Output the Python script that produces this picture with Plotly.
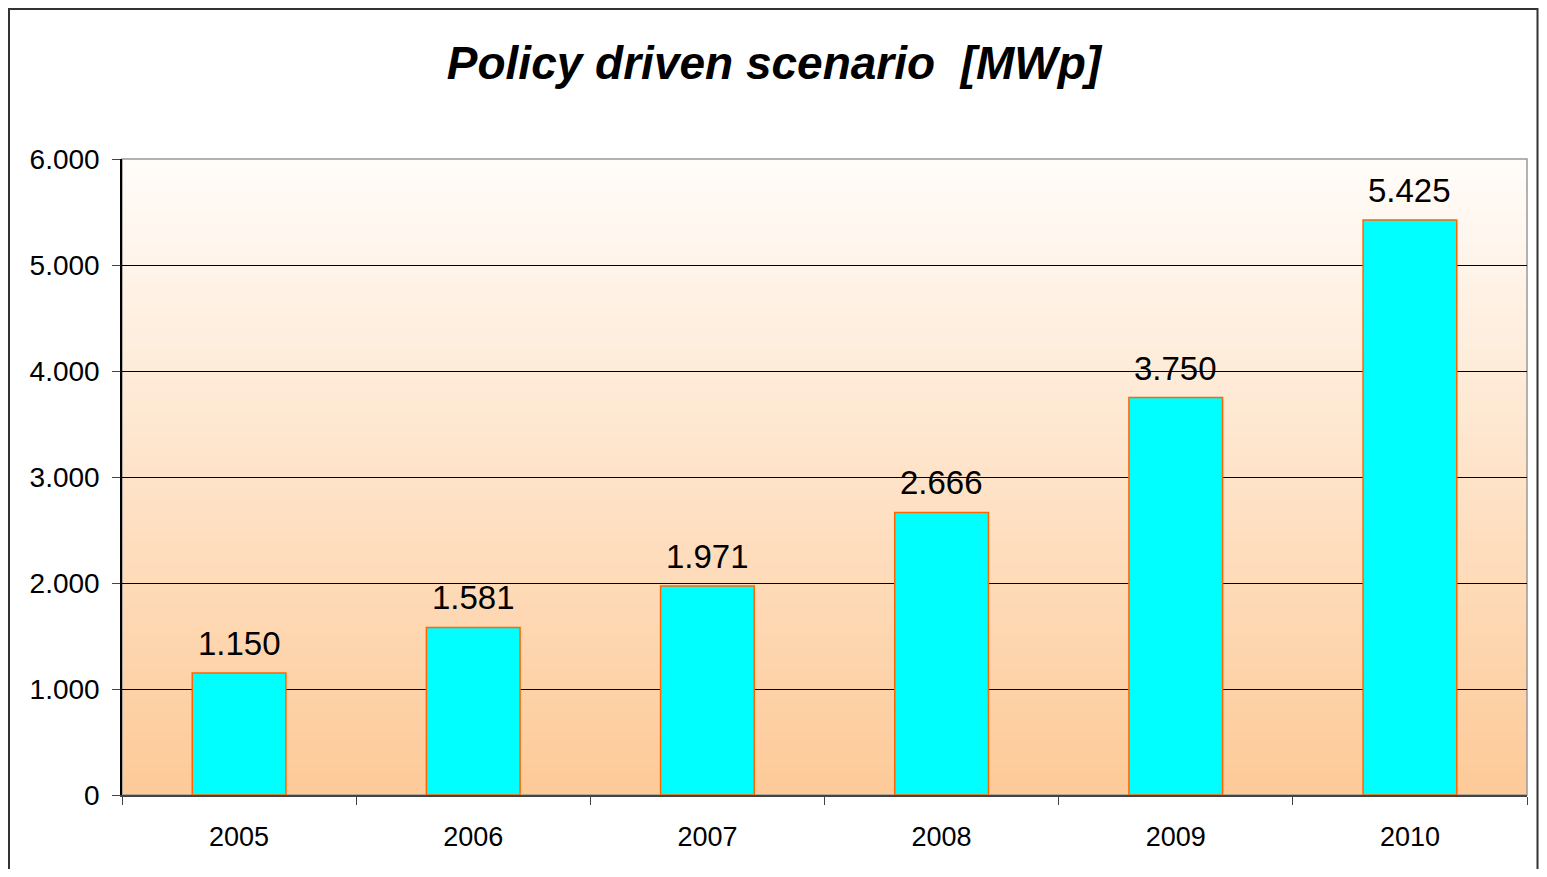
import plotly.graph_objects as go

years = ["2005", "2006", "2007", "2008", "2009", "2010"]
mwp = [1150, 1581, 1971, 2666, 3750, 5425]
y_ticks = [0, 1000, 2000, 3000, 4000, 5000, 6000]

# page body has an 8px margin on every side, so the figure is laid out smaller
# (no scrollbars) and shifted by 8px
OFF = 8
W, H = 1547 - 2 * OFF, 877 - 2 * OFF
L, T = 122 - OFF, 159 - OFF
R = W - (1527 - OFF)
B = H - (795 - OFF)
pw = W - L - R
ph = H - T - B


def px_x(p):
    return (p - OFF - L) / pw


def px_y(p):
    return 1 - (p - OFF - T) / ph


fig = go.Figure()
fig.add_trace(go.Bar(
    x=years, y=mwp,
    marker=dict(color="#00FFFF", line=dict(color="#FF6600", width=1.5)),
    width=0.4,
))

# value labels above the bars
for i, v in enumerate(mwp):
    fig.add_annotation(x=i, y=v, text=f"{v:,}".replace(",", "."),
                       showarrow=False, yanchor="bottom", yshift=9,
                       font=dict(size=33, color="black"))

# gradient plot background (white at top -> peach at bottom)
n = 60
top = (255, 252, 249)
bot = (253, 202, 152)
shapes = []
for i in range(n):
    t = i / (n - 1)
    c = tuple(round(bot[k] + (top[k] - bot[k]) * t) for k in range(3))
    shapes.append(dict(type="rect", xref="x domain", yref="y domain",
                       x0=0, x1=1, y0=i / n, y1=(i + 1) / n + 0.002,
                       fillcolor="rgb(%d,%d,%d)" % c, line=dict(width=0),
                       layer="below"))
# plot area border
shapes.append(dict(type="rect", xref="x domain", yref="y domain",
                   x0=0, x1=1, y0=0, y1=1, line=dict(color="#999999", width=1.5),
                   layer="below"))
# outer frame
shapes.append(dict(type="rect", xref="paper", yref="paper",
                   x0=px_x(9), x1=px_x(1537.5), y0=px_y(900), y1=px_y(9),
                   line=dict(color="#333333", width=2)))

fig.update_layout(
    width=W, height=H,
    margin=dict(l=L, r=R, t=T, b=B),
    paper_bgcolor="white",
    plot_bgcolor="rgba(0,0,0,0)",
    separators=",.",
    showlegend=False,
    shapes=shapes,
    font=dict(family="Liberation Sans, Arial, sans-serif", color="black"),
    title=dict(text="<b><i>Policy driven scenario  [MWp]</i></b>",
               x=(774 - OFF) / W, xref="container", xanchor="center",
               y=1 - (63 - OFF) / H, yanchor="middle",
               font=dict(size=46, color="black")),
)
fig.update_xaxes(type="category", showgrid=False, ticks="outside",
                 tickson="boundaries", ticklen=8, tickcolor="#444444",
                 showline=True, linecolor="#444444", linewidth=1.5,
                 tickfont=dict(size=27), ticklabelstandoff=17, tickangle=0)
fig.update_yaxes(range=[0, 6000], tickvals=y_ticks, tickformat=",d",
                 showgrid=True, gridcolor="black", gridwidth=1,
                 zeroline=False, ticks="outside", ticklen=8,
                 tickcolor="#444444", showline=True, linecolor="black",
                 linewidth=1.5, tickfont=dict(size=28), ticklabelstandoff=7)

fig.write_html("out.html")
